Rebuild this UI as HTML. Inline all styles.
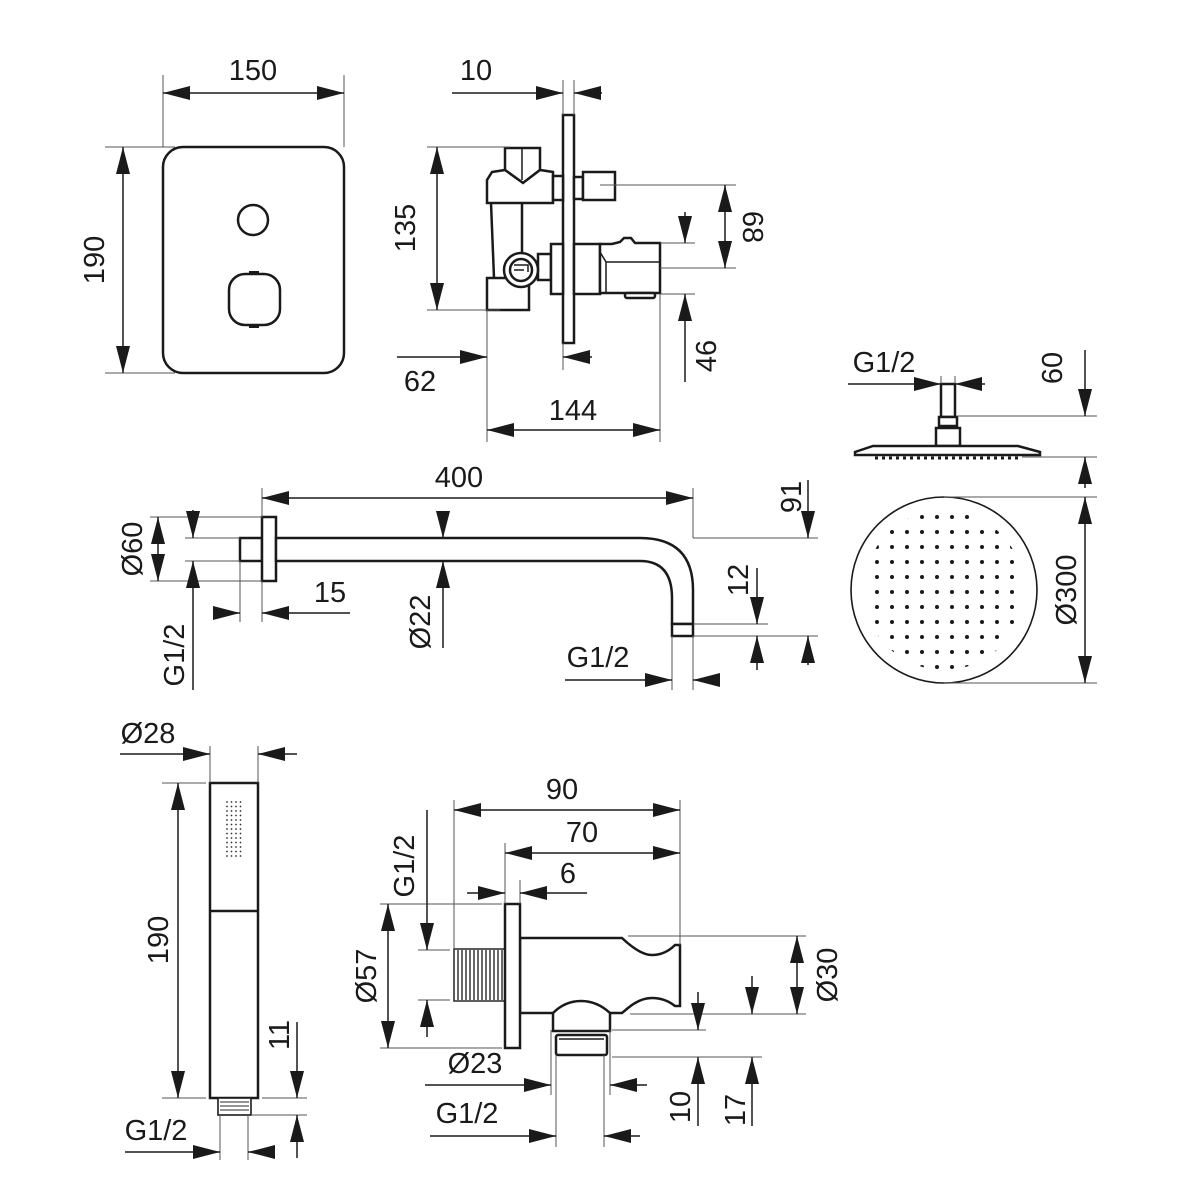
<!DOCTYPE html>
<html><head><meta charset="utf-8"><style>
html,body{margin:0;padding:0;background:#fff;}
svg{display:block;}
text{font-family:"Liberation Sans",sans-serif;font-size:29px;fill:#1a1a1a;}
.d{stroke:#1a1a1a;stroke-width:1.5;fill:none;}
.e{stroke:#555;stroke-width:1;fill:none;}
.o{stroke:#1a1a1a;stroke-width:2.5;fill:#fff;}
.a{marker-end:url(#ar);}
.b{marker-start:url(#ar);marker-end:url(#ar);}
</style></head><body>
<svg width="1200" height="1200" viewBox="0 0 1200 1200" xmlns="http://www.w3.org/2000/svg">
<defs>
<marker id="ar" markerUnits="userSpaceOnUse" markerWidth="30" markerHeight="16" refX="27" refY="7" orient="auto-start-reverse"><path d="M0,0 L27,7 L0,14 z" fill="#1a1a1a"/></marker>
<pattern id="dots" x="0" y="0" width="15" height="15" patternUnits="userSpaceOnUse"><circle cx="7" cy="7" r="2" fill="#1a1a1a"/></pattern>
<pattern id="dotsS" x="225" y="800" width="4.5" height="4.5" patternUnits="userSpaceOnUse"><circle cx="2" cy="2" r="0.9" fill="#333"/></pattern>
<clipPath id="cc"><circle cx="944" cy="590" r="80"/></clipPath>
</defs>

<!-- ===== Plate front ===== -->
<rect class="o" x="163" y="147" width="181" height="226" rx="20"/>
<circle class="o" cx="253" cy="220" r="15"/>
<rect class="o" x="229" y="274" width="51" height="51" rx="16"/>
<rect x="249" y="271" width="10" height="4" fill="#1a1a1a"/>
<rect x="249" y="324" width="10" height="4" fill="#1a1a1a"/>
<line class="e" x1="163" y1="75" x2="163" y2="147"/>
<line class="e" x1="344" y1="75" x2="344" y2="147"/>
<line class="d b" x1="163" y1="93" x2="344" y2="93"/>
<text x="253" y="80" text-anchor="middle">150</text>
<line class="e" x1="105" y1="147" x2="175" y2="147"/>
<line class="e" x1="105" y1="373" x2="175" y2="373"/>
<line class="d b" x1="123" y1="147" x2="123" y2="373"/>
<text transform="translate(104,260) rotate(-90)" text-anchor="middle">190</text>

<!-- ===== Valve side ===== -->
<rect class="o" x="563" y="115" width="11" height="228"/>
<path class="o" d="M505,148 L540,148 L540,170 L523,183 L505,170 Z"/>
<line class="d" x1="522" y1="148" x2="522" y2="180"/>
<path class="o" d="M492,172 L505,170 L523,183 L540,170 L553,172 L553,203 L487,203 L487,180 Z"/>
<rect class="o" x="553" y="176" width="10" height="24"/>
<rect class="o" x="574" y="177" width="9" height="22"/>
<rect class="o" x="583" y="172" width="32" height="28"/>
<line class="o" x1="491" y1="203" x2="494" y2="278"/>
<line class="o" x1="522" y1="203" x2="522" y2="255"/>
<rect class="o" x="487" y="278" width="42" height="32"/>
<rect class="o" x="538" y="254" width="13" height="26"/>
<rect class="o" x="551" y="244" width="12" height="50"/>
<rect class="o" x="574" y="244" width="26" height="50"/>
<path class="o" d="M600,244 L612,244 L620,242 L624,238 L631,238 L635,243 L660,243 L660,293 L600,293 Z"/>
<path class="d" d="M600,252 L606,262 L606,293"/>
<line class="d" x1="606" y1="262" x2="660" y2="262"/>
<rect class="o" x="625" y="293" width="30" height="5" rx="2"/>
<circle class="o" cx="521" cy="270" r="17"/>
<circle class="o" cx="521" cy="270" r="11"/>
<path class="d" d="M514,265 L528,265 L528,272 M514,270 L524,270"/>
<line class="e" x1="563" y1="80" x2="563" y2="115"/>
<line class="e" x1="574" y1="80" x2="574" y2="115"/>
<line class="d a" x1="452" y1="93" x2="563" y2="93"/>
<line class="d a" x1="602" y1="93" x2="574" y2="93"/>
<text x="476" y="80" text-anchor="middle">10</text>
<line class="e" x1="427" y1="147" x2="510" y2="147"/>
<line class="e" x1="427" y1="310" x2="500" y2="310"/>
<line class="d b" x1="437" y1="147" x2="437" y2="310"/>
<text transform="translate(415,228) rotate(-90)" text-anchor="middle">135</text>
<line class="e" x1="600" y1="185" x2="736" y2="185"/>
<line class="e" x1="660" y1="268" x2="736" y2="268"/>
<line class="d b" x1="725" y1="185" x2="725" y2="268"/>
<text transform="translate(743,227) rotate(90)" text-anchor="middle">68</text>
<line class="e" x1="660" y1="243" x2="695" y2="243"/>
<line class="e" x1="660" y1="294" x2="695" y2="294"/>
<line class="d a" x1="685" y1="212" x2="685" y2="243"/>
<line class="d a" x1="685" y1="382" x2="685" y2="294"/>
<text transform="translate(716,356) rotate(-90)" text-anchor="middle">46</text>
<line class="e" x1="487" y1="310" x2="487" y2="442"/>
<line class="e" x1="563" y1="343" x2="563" y2="370"/>
<line class="e" x1="660" y1="294" x2="660" y2="442"/>
<line class="d a" x1="397" y1="357" x2="487" y2="357"/>
<line class="d a" x1="592" y1="357" x2="563" y2="357"/>
<text x="420" y="391" text-anchor="middle">62</text>
<line class="d b" x1="487" y1="430" x2="660" y2="430"/>
<text x="573" y="420" text-anchor="middle">144</text>

<!-- ===== Shower head side ===== -->
<rect class="o" x="941" y="384" width="14" height="33"/>
<rect class="o" x="939" y="417" width="18" height="9"/>
<rect class="o" x="936" y="428" width="24" height="18"/>
<path class="o" d="M873,446 L1018,446 L1040,452 L1040,455 L855,455 L855,452 Z"/>
<line x1="875" y1="458" x2="1020" y2="458" stroke="#1a1a1a" stroke-width="3" stroke-dasharray="3,4"/>
<line class="e" x1="941" y1="376" x2="941" y2="384"/>
<line class="e" x1="955" y1="376" x2="955" y2="384"/>
<line class="d a" x1="848" y1="384" x2="941" y2="384"/>
<line class="d a" x1="985" y1="384" x2="955" y2="384"/>
<text x="884" y="372" text-anchor="middle">G1/2</text>
<line class="e" x1="957" y1="416" x2="1097" y2="416"/>
<line class="e" x1="1022" y1="457" x2="1097" y2="457"/>
<line class="d a" x1="1085" y1="350" x2="1085" y2="416"/>
<line class="d a" x1="1085" y1="488" x2="1085" y2="457"/>
<text transform="translate(1062,368) rotate(-90)" text-anchor="middle">60</text>

<!-- ===== Shower head top ===== -->
<circle cx="944" cy="590" r="93" fill="#fff" stroke="#1a1a1a" stroke-width="1.6"/>
<rect x="860" y="505" width="170" height="170" fill="url(#dots)" clip-path="url(#cc)"/>
<line class="e" x1="944" y1="497" x2="1097" y2="497"/>
<line class="e" x1="944" y1="683" x2="1097" y2="683"/>
<line class="d b" x1="1085" y1="497" x2="1085" y2="683"/>
<text transform="translate(1076,590) rotate(-90)" text-anchor="middle">Ø300</text>

<!-- ===== Shower arm ===== -->
<rect class="o" x="240" y="538" width="22" height="23"/>
<rect class="o" x="262" y="517" width="14" height="64"/>
<path class="o" d="M276,538 L640,538 Q693,538 693,590 L693,624 L672,624 L672,598 Q672,561 640,561 L276,561 Z"/>
<rect class="o" x="672" y="624" width="21" height="12"/>
<line class="e" x1="262" y1="488" x2="262" y2="517"/>
<line class="e" x1="693" y1="488" x2="693" y2="538"/>
<line class="d b" x1="262" y1="498" x2="693" y2="498"/>
<text x="459" y="487" text-anchor="middle">400</text>
<line class="e" x1="150" y1="517" x2="262" y2="517"/>
<line class="e" x1="150" y1="581" x2="262" y2="581"/>
<line class="d b" x1="158" y1="517" x2="158" y2="581"/>
<text transform="translate(142,549) rotate(-90)" text-anchor="middle">Ø60</text>
<line class="e" x1="185" y1="538" x2="240" y2="538"/>
<line class="e" x1="185" y1="561" x2="240" y2="561"/>
<line class="d a" x1="193" y1="510" x2="193" y2="538"/>
<line class="d a" x1="193" y1="690" x2="193" y2="561"/>
<text transform="translate(184,655) rotate(-90)" text-anchor="middle">G1/2</text>
<line class="e" x1="240" y1="561" x2="240" y2="622"/>
<line class="e" x1="262" y1="581" x2="262" y2="622"/>
<line class="d a" x1="233" y1="613" x2="240" y2="613"/>
<line class="d a" x1="350" y1="613" x2="262" y2="613"/>
<text x="330" y="602" text-anchor="middle">15</text>
<line class="d a" x1="443" y1="512" x2="443" y2="538"/>
<line class="d a" x1="443" y1="648" x2="443" y2="561"/>
<text transform="translate(430,622) rotate(-90)" text-anchor="middle">Ø22</text>
<line class="e" x1="693" y1="538" x2="818" y2="538"/>
<line class="e" x1="693" y1="636" x2="818" y2="636"/>
<line class="e" x1="693" y1="624" x2="768" y2="624"/>
<line class="d a" x1="808" y1="480" x2="808" y2="538"/>
<line class="d a" x1="808" y1="665" x2="808" y2="636"/>
<text transform="translate(801,497) rotate(-90)" text-anchor="middle">91</text>
<line class="d a" x1="757" y1="568" x2="757" y2="624"/>
<line class="d a" x1="757" y1="670" x2="757" y2="636"/>
<text transform="translate(748,580) rotate(-90)" text-anchor="middle">12</text>
<line class="e" x1="672" y1="636" x2="672" y2="690"/>
<line class="e" x1="693" y1="636" x2="693" y2="690"/>
<line class="d a" x1="565" y1="680" x2="672" y2="680"/>
<line class="d a" x1="718" y1="680" x2="693" y2="680"/>
<text x="598" y="667" text-anchor="middle">G1/2</text>

<!-- ===== Hand shower ===== -->
<rect class="o" x="210" y="783" width="48" height="315"/>
<line class="o" x1="210" y1="911" x2="258" y2="911"/>
<rect x="225" y="800" width="18" height="58" fill="url(#dotsS)"/>
<rect x="218" y="1098" width="33" height="17" fill="#fff" stroke="#1a1a1a" stroke-width="1.6"/>
<path d="M220,1102 L249,1102 M220,1106 L249,1106 M220,1110 L249,1110" stroke="#555" stroke-width="1.2"/>
<line class="e" x1="210" y1="746" x2="210" y2="783"/>
<line class="e" x1="258" y1="746" x2="258" y2="783"/>
<line class="d a" x1="120" y1="754" x2="210" y2="754"/>
<line class="d a" x1="297" y1="754" x2="258" y2="754"/>
<text x="148" y="743" text-anchor="middle">Ø28</text>
<line class="e" x1="162" y1="783" x2="206" y2="783"/>
<line class="e" x1="162" y1="1098" x2="206" y2="1098"/>
<line class="d b" x1="178" y1="783" x2="178" y2="1098"/>
<text transform="translate(168,940) rotate(-90)" text-anchor="middle">190</text>
<line class="e" x1="262" y1="1098" x2="307" y2="1098"/>
<line class="e" x1="252" y1="1115" x2="307" y2="1115"/>
<line class="d a" x1="297" y1="1022" x2="297" y2="1098"/>
<line class="d a" x1="297" y1="1158" x2="297" y2="1115"/>
<text transform="translate(289,1035) rotate(-90)" text-anchor="middle">11</text>
<line class="e" x1="220" y1="1115" x2="220" y2="1160"/>
<line class="e" x1="248" y1="1115" x2="248" y2="1160"/>
<line class="d a" x1="125" y1="1152" x2="220" y2="1152"/>
<line class="d a" x1="275" y1="1152" x2="248" y2="1152"/>
<text x="156" y="1140" text-anchor="middle">G1/2</text>

<!-- ===== Wall outlet ===== -->
<rect x="454" y="949" width="51" height="52" fill="#fff" stroke="#333" stroke-width="1.6"/>
<path d="M458,950 V1000 M462,950 V1000 M466,950 V1000 M470,950 V1000 M474,950 V1000 M478,950 V1000 M482,950 V1000 M486,950 V1000 M490,950 V1000 M494,950 V1000 M498,950 V1000 M502,950 V1000" stroke="#444" stroke-width="1.6"/>
<path class="o" d="M520,938 L622,938 Q640,955 652,955 Q665,955 675,945 L680,945 L680,1006 L675,1006 Q665,998 652,998 Q640,998 628,1008 L622,1013 L608,1013 L520,1013 Z"/>
<path class="o" d="M553,1013 Q565,1001 581,1001 Q597,1001 610,1013 L610,1031 L553,1031 Z"/>
<rect class="o" x="556" y="1035" width="51" height="20" rx="2"/>
<line class="d" x1="559" y1="1039" x2="604" y2="1039"/>
<rect class="o" x="505" y="904" width="15" height="144"/>
<line class="e" x1="454" y1="800" x2="454" y2="948"/>
<line class="e" x1="505" y1="843" x2="505" y2="904"/>
<line class="e" x1="520" y1="880" x2="520" y2="904"/>
<line class="e" x1="680" y1="800" x2="680" y2="945"/>
<line class="d b" x1="454" y1="810" x2="680" y2="810"/>
<text x="562" y="799" text-anchor="middle">90</text>
<line class="d b" x1="505" y1="853" x2="680" y2="853"/>
<text x="582" y="842" text-anchor="middle">70</text>
<line class="d a" x1="467" y1="893" x2="505" y2="893"/>
<line class="d a" x1="587" y1="893" x2="520" y2="893"/>
<text x="568" y="883" text-anchor="middle">6</text>
<line class="e" x1="380" y1="904" x2="502" y2="904"/>
<line class="e" x1="380" y1="1048" x2="502" y2="1048"/>
<line class="d b" x1="388" y1="904" x2="388" y2="1048"/>
<text transform="translate(376,976) rotate(-90)" text-anchor="middle">Ø57</text>
<line class="e" x1="418" y1="950" x2="450" y2="950"/>
<line class="e" x1="418" y1="1000" x2="450" y2="1000"/>
<line class="d a" x1="427" y1="810" x2="427" y2="950"/>
<line class="d a" x1="427" y1="1037" x2="427" y2="1000"/>
<text transform="translate(414,866) rotate(-90)" text-anchor="middle">G1/2</text>
<line class="e" x1="628" y1="936" x2="806" y2="936"/>
<line class="e" x1="630" y1="1014" x2="806" y2="1014"/>
<line class="d b" x1="797" y1="936" x2="797" y2="1014"/>
<text transform="translate(837,975) rotate(-90)" text-anchor="middle">Ø30</text>
<line class="e" x1="612" y1="1030" x2="706" y2="1030"/>
<line class="e" x1="612" y1="1057" x2="762" y2="1057"/>
<line class="d a" x1="698" y1="992" x2="698" y2="1030"/>
<line class="d a" x1="698" y1="1126" x2="698" y2="1057"/>
<text transform="translate(690,1107) rotate(-90)" text-anchor="middle">10</text>
<line class="d a" x1="752" y1="976" x2="752" y2="1014"/>
<line class="d a" x1="752" y1="1126" x2="752" y2="1057"/>
<text transform="translate(745,1110) rotate(-90)" text-anchor="middle">17</text>
<line class="e" x1="551" y1="1030" x2="551" y2="1095"/>
<line class="e" x1="610" y1="1030" x2="610" y2="1095"/>
<line class="d a" x1="425" y1="1085" x2="551" y2="1085"/>
<line class="d a" x1="647" y1="1085" x2="610" y2="1085"/>
<text x="475" y="1073" text-anchor="middle">Ø23</text>
<line class="e" x1="556" y1="1055" x2="556" y2="1147"/>
<line class="e" x1="604" y1="1055" x2="604" y2="1147"/>
<line class="d a" x1="430" y1="1136" x2="556" y2="1136"/>
<line class="d a" x1="640" y1="1136" x2="604" y2="1136"/>
<text x="467" y="1123" text-anchor="middle">G1/2</text>
</svg>
</body></html>
